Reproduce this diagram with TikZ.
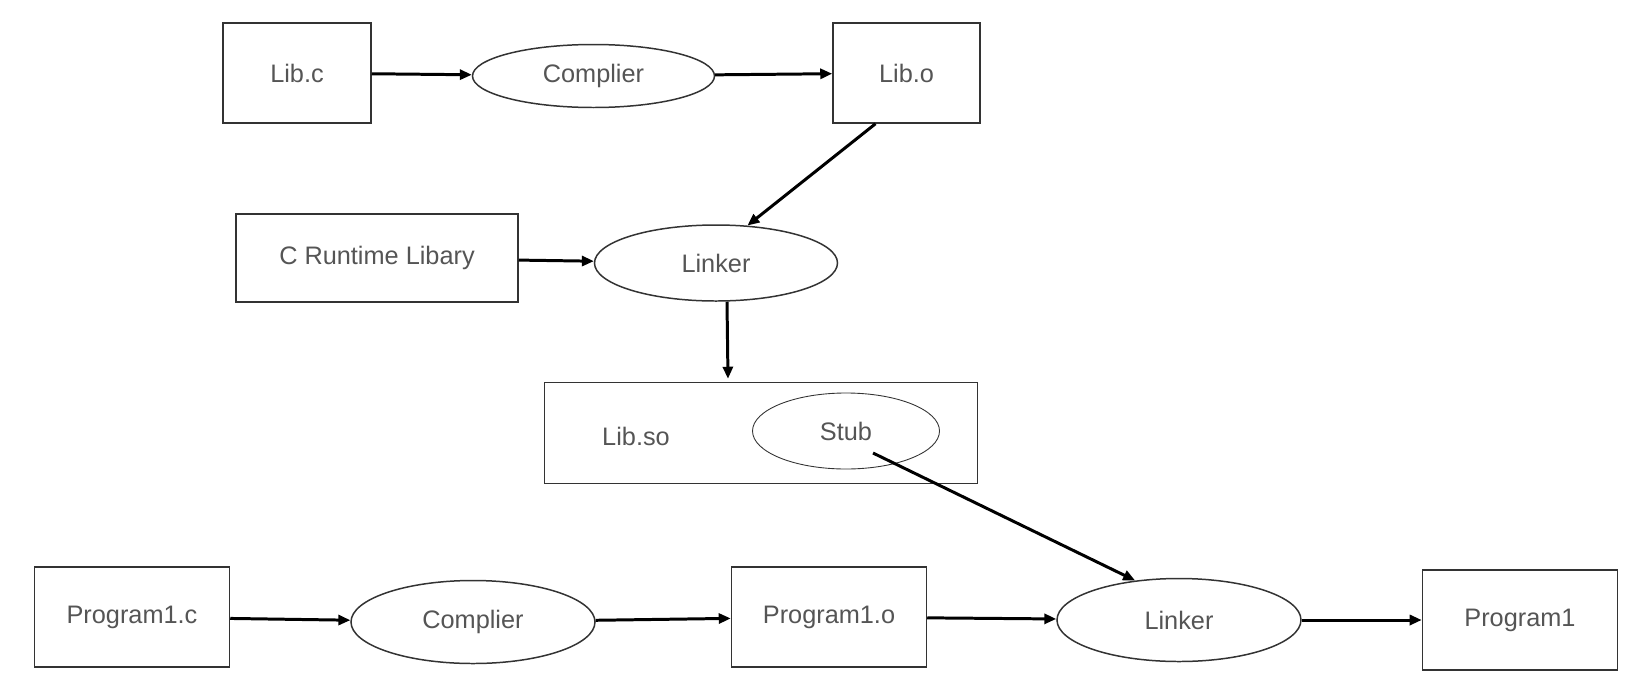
\documentclass[tikz,border=0pt]{standalone}
\usepackage{fontspec}
\setmainfont{Liberation Sans}
\usepackage{tikz}
\usetikzlibrary{shapes.geometric,arrows.meta,positioning,calc}

\definecolor{txtgray}{RGB}{85,85,85}
\definecolor{boxgray}{RGB}{51,51,51}

\begin{document}
\begin{tikzpicture}[
      box/.style   = {rectangle, draw=boxgray, line width=0.85pt,
                      minimum width=3.9cm, minimum height=2cm,
                      inner sep=0pt, text=txtgray, font=\fontsize{14.4}{17}\selectfont},
      oval/.style  = {ellipse, draw=boxgray, line width=0.85pt,
                      minimum width=4.86cm, minimum height=1.52cm,
                      inner sep=0pt, text=txtgray, font=\fontsize{14.4}{17}\selectfont},
      arrow/.style = {-{Triangle[length=0.24cm,width=0.2cm]}, line width=1.7pt, black}
    ]
    \useasboundingbox (0,0) rectangle (32.88,-13.88);

    % library build
    \node[box, minimum width=2.96cm] (libc) at (5.94,-1.46) {Lib.c};
    \node[oval, minimum width=4.84cm, minimum height=1.26cm, right=2cm of libc, yshift=-0.06cm] (comp1) {Complier};
    \node[box, minimum width=2.94cm, right=2.34cm of comp1, yshift=0.06cm] (libo) {Lib.o};

    \node[box, minimum width=5.64cm, minimum height=1.76cm] (crt) at (7.54,-5.16) {C Runtime Libary};
    \node[oval, right=1.5cm of crt, yshift=-0.1cm] (link1) {Linker};

    \node[box, minimum width=8.66cm, minimum height=2.02cm] (libso) at (15.22,-8.66) {};
    \node[text=txtgray, font=\fontsize{14.4}{17}\selectfont] (solabel) at (12.72,-8.72) {Lib.so};
    \node[oval, line width=0.5pt, minimum width=3.74cm] (stub) at (16.92,-8.62) {Stub};

    % program build
    \node[box] (p1c) at (2.64,-12.34) {Program1.c};
    \node[oval, minimum width=4.88cm, minimum height=1.66cm, right=2.4cm of p1c, yshift=-0.1cm] (comp2) {Complier};
    \node[box, right=2.7cm of comp2, yshift=0.1cm] (p1o) {Program1.o};
    \node[oval, minimum width=4.88cm, minimum height=1.66cm, right=2.58cm of p1o, yshift=-0.06cm] (link2) {Linker};
    \node[box, right=2.4cm of link2] (prog1) {Program1};

    \draw[arrow] (libc)  -- (comp1);
    \draw[arrow] (comp1) -- (libo);
    \draw[arrow] ($(libo.south)+(-0.62,0)$) -- (link1.50);
    \draw[arrow] (crt)   -- (link1);
    \draw[arrow] ($(link1.south)+(0.22,0)$) -- ($(libso.north)+(-0.66,0.06)$);
    \draw[arrow] ($(stub.center)+(0.54,-0.44)$) -- (link2.138);

    \draw[arrow] (p1c)   -- (comp2);
    \draw[arrow] (comp2) -- (p1o);
    \draw[arrow] (p1o)   -- (link2);
    \draw[arrow] (link2) -- (prog1);
  \end{tikzpicture}
\end{document}
